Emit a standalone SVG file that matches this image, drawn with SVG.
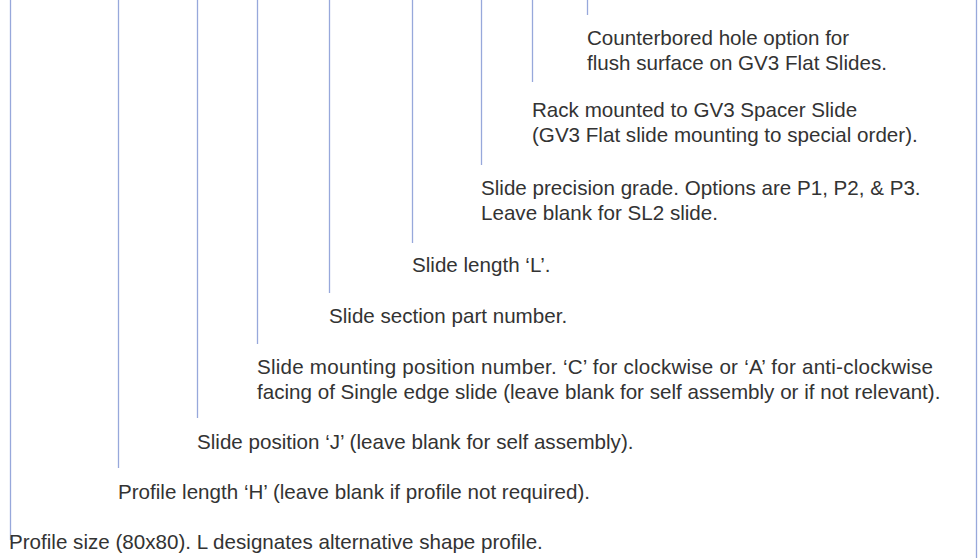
<svg xmlns="http://www.w3.org/2000/svg" width="978" height="558" viewBox="0 0 978 558">
<style>
.t{font-family:"Liberation Sans",Arial,sans-serif;font-size:20.6px;fill:#333333}
.c line{stroke:#97a8db;stroke-width:1.3}
</style>
<rect width="978" height="558" fill="#ffffff"/>
<g id="connectors" class="c">
<line x1="10.5" y1="0" x2="10.5" y2="540"/>
<line x1="118.5" y1="0" x2="118.5" y2="468"/>
<line x1="197.5" y1="0" x2="197.5" y2="418"/>
<line x1="257.5" y1="0" x2="257.5" y2="344"/>
<line x1="329.5" y1="0" x2="329.5" y2="293"/>
<line x1="412.5" y1="0" x2="412.5" y2="243"/>
<line x1="481.5" y1="0" x2="481.5" y2="165"/>
<line x1="532.5" y1="0" x2="532.5" y2="82"/>
<line x1="587.5" y1="0" x2="587.5" y2="15"/>
<line x1="976.5" y1="0" x2="976.5" y2="558"/>
</g>
<g id="n1"><text class="t" x="587" y="45">Counterbored hole option for</text><text class="t" x="587" y="70">flush surface on GV3 Flat Slides.</text></g>
<g id="n2"><text class="t" x="532" y="117">Rack mounted to GV3 Spacer Slide</text><text class="t" x="532" y="142">(GV3 Flat slide mounting to special order).</text></g>
<g id="n3"><text class="t" x="481" y="195">Slide precision grade. Options are P1, P2, &amp; P3.</text><text class="t" x="481" y="220">Leave blank for SL2 slide.</text></g>
<g id="n4"><text class="t" x="412" y="272">Slide length ‘L’.</text></g>
<g id="n5"><text class="t" x="329" y="323">Slide section part number.</text></g>
<g id="n6"><text class="t" x="257" y="374" textLength="676" lengthAdjust="spacing">Slide mounting position number. ‘C’ for clockwise or ‘A’ for anti-clockwise</text><text class="t" x="257" y="399">facing of Single edge slide (leave blank for self assembly or if not relevant).</text></g>
<g id="n7"><text class="t" x="197" y="449">Slide position ‘J’ (leave blank for self assembly).</text></g>
<g id="n8"><text class="t" x="118" y="499">Profile length ‘H’ (leave blank if profile not required).</text></g>
<g id="n9"><text class="t" x="9" y="549">Profile size (80x80). L designates alternative shape profile.</text></g>
</svg>
